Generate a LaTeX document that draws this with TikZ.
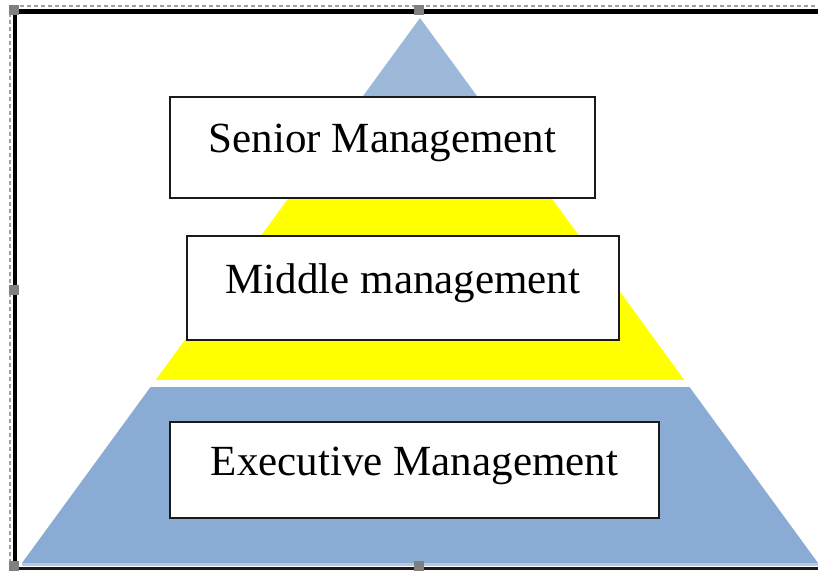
\documentclass[tikz,border=0pt]{standalone}
\usepackage{fontspec}
\setmainfont{Liberation Serif}
\usetikzlibrary{calc}
\begin{document}
\begin{tikzpicture}[x=1pt,y=-1pt,
  levelbox/.style={draw=customcolor0,line width=2.4pt,fill=customcolor4,inner sep=0pt,
    font=\fontsize{43}{50}\selectfont,text height=29pt,text depth=19pt},
  handle/.style={fill=customcolor5,draw=none,minimum size=10.5pt,inner sep=0pt}]
\definecolor{customcolor0}{HTML}{1A1A1A}
\definecolor{customcolor1}{HTML}{9DB9DA}
\definecolor{customcolor2}{HTML}{FFFF00}
\definecolor{customcolor3}{HTML}{8AABD3}
\definecolor{customcolor4}{HTML}{FFFFFF}
\definecolor{customcolor5}{HTML}{808080}
\definecolor{customcolor6}{HTML}{B4C8E4}
\definecolor{customcolor7}{HTML}{A0A0A0}
\useasboundingbox[fill=customcolor4] (0,0) rectangle (818,570);
% pyramid
\coordinate (apex) at (420,18);
\coordinate (bl) at (22,563);
\coordinate (br) at (818,563);
\fill[customcolor1] (apex) -- ($(apex)!0.2422!(bl)$) -- ($(apex)!0.2422!(br)$) -- cycle;
\fill[customcolor2] ($(apex)!0.2495!(bl)$) -- ($(apex)!0.6642!(bl)$) -- ($(apex)!0.6642!(br)$) -- ($(apex)!0.2495!(br)$) -- cycle;
\fill[customcolor3] ($(apex)!0.6771!(bl)$) -- (bl) -- (br) -- ($(apex)!0.6771!(br)$) -- cycle;
\fill[customcolor6] (bl) rectangle (818,566);
% boxes
\node[levelbox,minimum width=425pt,minimum height=101pt] (senior) at (382.5,147.5) {Senior Management};
\node[levelbox,minimum width=432pt,minimum height=104pt] (middle) at (403,288) {Middle management};
\node[levelbox,minimum width=489pt,minimum height=96pt] (executive) at (414.5,470) {Executive Management};
% selection frame
\draw[customcolor7,line width=1.5pt,dash pattern=on 4pt off 3pt] (10,570) -- (10,6) -- (818,6);
\draw[black,line width=5pt] (12.5,11.5) -- (818,11.5);
\draw[black,line width=4pt] (14.5,9) -- (14.5,566);
\draw[customcolor0,line width=2.5pt] (10,568.5) -- (818,568.5);
\node[handle] (hnw) at (14,10) {};
\node[handle] (hn) at (419,10) {};
\node[handle] (hw) at (14,290) {};
\node[handle] (hsw) at (14,566) {};
\node[handle] (hs) at (419,566) {};
\end{tikzpicture}
\end{document}
